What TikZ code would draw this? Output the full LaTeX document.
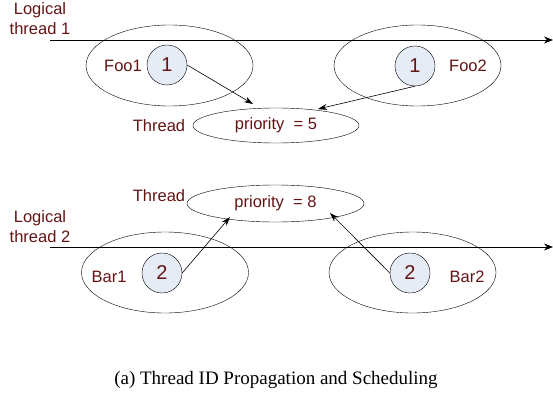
\documentclass[tikz,border=0pt]{standalone}
\usepackage{fontspec}
\setmainfont{Liberation Sans}
\newfontfamily\capfont{Liberation Serif}
\usetikzlibrary{arrows.meta,shapes.geometric}
\definecolor{labelred}{RGB}{100,20,20}
\definecolor{tokenfill}{RGB}{230,236,246}
\tikzset{
  lbl/.style={text=labelred, font=\fontsize{16.5}{20}\selectfont, inner sep=0pt},
  scope oval/.style={draw, ellipse, minimum width=167pt, minimum height=81pt, inner sep=0pt},
  prio oval/.style={draw, ellipse, inner sep=0pt, text=labelred, font=\fontsize{16.5}{20}\selectfont},
  token/.style={draw, circle, fill=tokenfill, minimum size=40pt, inner sep=0pt, text=labelred, font=\fontsize{20}{22}\selectfont},
  flow/.style={-{Stealth[length=9pt,width=7pt]}, line width=0.7pt},
  link/.style={-{Stealth[length=9pt,width=6pt]}, line width=0.6pt}
}
\begin{document}
\begin{tikzpicture}[x=1pt,y=-1pt]
\useasboundingbox (0,0) rectangle (553,398);

% logical thread 1
\node[lbl, align=center] (lt1) at (40,19) {Logical\\thread 1};
\coordinate (l1a) at (50,40);
\coordinate (l1b) at (553,40);
\draw[flow] (l1a) -- (l1b);

\node[scope oval] (foo1) at (169.5,65.5) {};
\node[scope oval] (foo2) at (417.5,65.5) {};
\node[token] (t1a) at (167,65) {1};
\node[token] (t1b) at (415,66) {1};
\node[lbl] (foo1l) at (123,66) {Foo1};
\node[lbl] (foo2l) at (468,66) {Foo2};

\node[prio oval, minimum width=166pt, minimum height=35pt] (p5) at (276,125.5) {priority~~= 5};
\node[lbl] (th1) at (159,126) {Thread};

% priority hand-off targets on the thread ovals
\coordinate (p5in) at (253,104);
\coordinate (p5in2) at (318,109);
\coordinate (p8in) at (230,217);
\coordinate (p8in2) at (330,213);

\draw[link] (t1a.east) -- (p5in);
\draw[link] (t1b.south) -- (p5in2);

% logical thread 2
\node[lbl, align=center] (lt2) at (40,227) {Logical\\thread 2};
\coordinate (l2a) at (50,247);
\coordinate (l2b) at (553,247);
\draw[flow] (l2a) -- (l2b);

\node[prio oval, minimum width=177pt, minimum height=37pt] (p8) at (275.5,203.5) {priority~~= 8};
\node[lbl] (th2) at (159,196) {Thread};

\node[scope oval] (bar1) at (165,272.5) {};
\node[scope oval] (bar2) at (412.5,272.5) {};
\node[token] (t2a) at (162,273) {2};
\node[token] (t2b) at (410,273) {2};
\node[lbl] (bar1l) at (109,277) {Bar1};
\node[lbl] (bar2l) at (467,277) {Bar2};

\draw[link] (t2a.east) -- (p8in);
\draw[link] (t2b.west) -- (p8in2);

% caption
\node[inner sep=0pt, font=\capfont\fontsize{19}{22}\selectfont] (cap) at (276,380) {(a) Thread ID Propagation and Scheduling};
\end{tikzpicture}
\end{document}
